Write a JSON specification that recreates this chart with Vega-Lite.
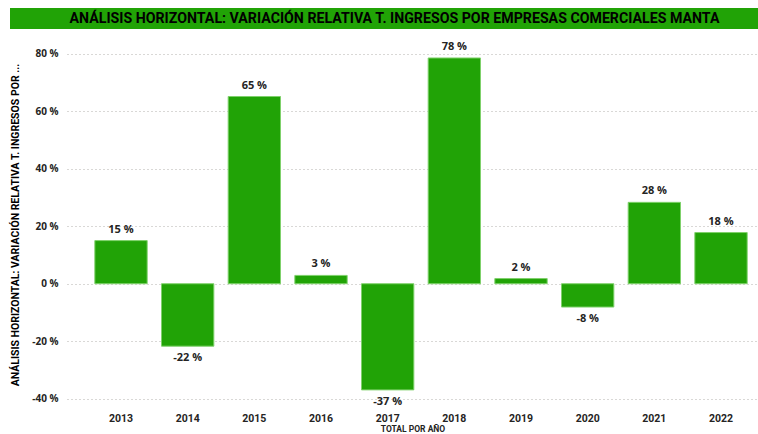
{
  "$schema": "https://vega.github.io/schema/vega-lite/v6.json",
  "padding": {"left": 10, "top": 8, "right": 0, "bottom": 0},
  "background": "white",
  "spacing": 11,
  "config": {"view": {"stroke": null}},
  "vconcat": [
    {
      "width": 691,
      "height": 21,
      "data": {"values": [{"t": "ANÁLISIS HORIZONTAL: VARIACIÓN RELATIVA T. INGRESOS POR EMPRESAS COMERCIALES MANTA", "x0": 0, "x1": 748}]},
      "layer": [
        {
          "mark": {"type": "rect", "color": "#21a306", "clip": false},
          "encoding": {
            "x": {"field": "x0", "type": "quantitative", "scale": {"domain": [57, 748], "nice": false, "zero": false}, "axis": null},
            "x2": {"field": "x1"}
          }
        },
        {
          "mark": {"type": "text", "font": "Roboto", "fontWeight": "bold", "fontSize": 14.2, "color": "#000000", "baseline": "middle", "align": "center", "dx": -18},
          "encoding": {"text": {"field": "t"}}
        }
      ]
    },
    {
      "width": 691,
      "height": 367,
      "data": {"values": [
        {"year": "2013", "pct": 15.0, "label": "15 %"},
        {"year": "2014", "pct": -21.7, "label": "-22 %"},
        {"year": "2015", "pct": 65.1, "label": "65 %"},
        {"year": "2016", "pct": 2.9, "label": "3 %"},
        {"year": "2017", "pct": -36.9, "label": "-37 %"},
        {"year": "2018", "pct": 78.5, "label": "78 %"},
        {"year": "2019", "pct": 1.8, "label": "2 %"},
        {"year": "2020", "pct": -8.1, "label": "-8 %"},
        {"year": "2021", "pct": 28.3, "label": "28 %"},
        {"year": "2022", "pct": 17.8, "label": "18 %"}
      ]},
      "encoding": {
        "x": {
          "field": "year", "type": "nominal", "sort": null,
          "scale": {"paddingInner": 0.215, "paddingOuter": 0.29, "align": 0.72},
          "axis": {
            "title": "TOTAL POR AÑO",
            "titleFont": "Roboto", "titleFontWeight": "bold", "titleFontSize": 8.5, "titleColor": "#252423", "titlePadding": 1,
            "labelFont": "Roboto", "labelFontWeight": "bold", "labelFontSize": 10.5, "labelColor": "#252423",
            "labelAngle": 0, "labelPadding": 5, "ticks": false, "domain": false, "grid": false
          }
        },
        "y": {
          "field": "pct", "type": "quantitative",
          "scale": {"domain": [-43.2, 84.4], "nice": false, "zero": true},
          "axis": {
            "title": "ANÁLISIS HORIZONTAL: VARIACIÓN RELATIVA T. INGRESOS POR ...",
            "titleFont": "Roboto", "titleFontWeight": "bold", "titleFontSize": 10.5, "titleColor": "#000000", "titlePadding": 11, "titleLimit": 367,
            "values": [-40, -20, 0, 20, 40, 60, 80],
            "labelExpr": "datum.value + ' %'",
            "labelFont": "Open Sans", "labelFontWeight": "bold", "labelFontSize": 10, "labelColor": "#252423", "labelPadding": 9,
            "ticks": false, "domain": false,
            "grid": true, "gridDash": [1, 3], "gridColor": "#b3b0ad", "gridWidth": 1
          }
        }
      },
      "layer": [
        {"mark": {"type": "bar", "color": "#21a306", "stroke": "#7fd16b", "strokeWidth": 1}},
        {
          "transform": [{"filter": "datum.pct >= 0"}],
          "mark": {"type": "text", "baseline": "bottom", "dy": -6, "font": "Open Sans", "fontWeight": "bold", "fontSize": 11, "color": "#252423"},
          "encoding": {"text": {"field": "label"}}
        },
        {
          "transform": [{"filter": "datum.pct < 0"}],
          "mark": {"type": "text", "baseline": "top", "dy": 6, "font": "Open Sans", "fontWeight": "bold", "fontSize": 11, "color": "#252423"},
          "encoding": {"text": {"field": "label"}}
        }
      ]
    }
  ]
}
